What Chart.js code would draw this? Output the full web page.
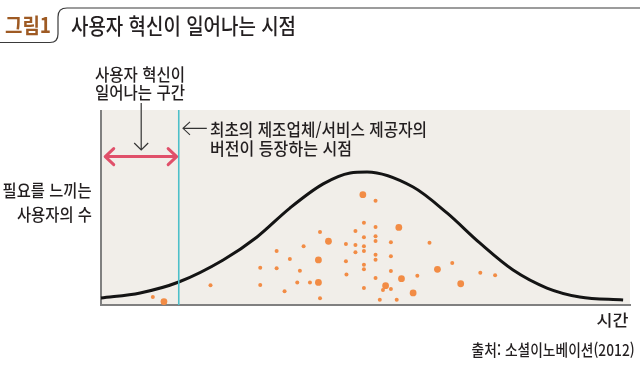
<!DOCTYPE html>
<html lang="ko">
<head>
<meta charset="utf-8">
<script src="https://cdn.jsdelivr.net/npm/chart.js@4.4.1/dist/chart.umd.min.js"></script>
<style>
  html, body { margin: 0; padding: 0; background: #ffffff; }
  #wrap { position: relative; width: 640px; height: 367px; overflow: hidden; }
  #c { position: absolute; left: 0; top: 0; }
  .t { position: absolute; white-space: nowrap; line-height: 1; color: #231f20; font-weight: 500;
       font-family: "Noto Sans CJK KR", "Noto Sans", sans-serif; display: inline-block; }
</style>
</head>
<body>
<div id="wrap">
  <canvas id="c" width="640" height="367"></canvas>
  <div class="t" data-w="46" style="left:5px; top:14px; font-size:21px; font-weight:700; color:#9e5a23;">그림1</div>
  <div class="t" data-w="225" style="left:71px; top:13px; font-size:22px;">사용자 혁신이 일어나는 시점</div>
  <div class="t" data-w="90" style="left:95px; top:65px; font-size:17px;">사용자 혁신이</div>
  <div class="t" data-w="90" style="left:95px; top:83px; font-size:17px;">일어나는 구간</div>
  <div class="t" data-w="217" style="left:210px; top:120px; font-size:17px;">최초의 제조업체/서비스 제공자의</div>
  <div class="t" data-w="142" style="left:210px; top:139px; font-size:17px;">버전이 등장하는 시점</div>
  <div class="t r" data-w="89" style="right:548px; top:181px; font-size:17px;">필요를 느끼는</div>
  <div class="t r" data-w="75" style="right:548px; top:205px; font-size:17px;">사용자의 수</div>
  <div class="t r" data-w="32" style="right:12px; top:311px; font-size:16px;">시간</div>
  <div class="t r" data-w="163" style="right:5px; top:341px; font-size:16px;">출처: 소셜이노베이션(2012)</div>
</div>
<script>
// ---- data (time 0-100, users 0-100) ----
const curveX = [0, 7.4, 14.7, 23.1, 29.5, 35.7, 42.0, 47.1, 50.3, 59.0, 65.4, 71.6, 77.9, 84.3, 90.5, 98.7];
const curveY = [3.6, 6.2, 11.8, 23.1, 34.9, 49.7, 62.1, 67.7, 68.2, 60.5, 47.2, 31.8, 17.9, 8.7, 4.1, 2.6];

const smallX = [9.8,20.7,30.1,30.1,33.2,33.2,34.7,35.7,37.1,37.6,38.3,39.5,41.4,41.4,46.3,46.3,46.4,48.1,48.1,48.1,
                49.7,49.7,49.7,49.7,49.7,49.7,49.7,51.9,51.9,51.9,51.9,51.9,51.9,51.9,52.7,53.3,54.8,54.8,54.8,54.8,
                55.9,59.8,62.1,66.4,71.7,74.5];
const smallY = [4.1,10.1,19.1,10.3,27.7,18.8,7.0,23.6,11.6,17.6,30.1,11.6,37.4,3.4,31.3,22.4,15.7,37.9,30.8,27.0,
                42.2,34.7,30.1,27.7,20.7,18.3,8.7,53.5,40.0,35.2,32.8,25.8,23.2,13.8,2.7,7.7,32.2,25.0,17.4,8.2,
                2.7,15.0,31.9,21.5,16.6,15.2];

const largeX = [11.9,41.1,41.1,43.0,49.5,53.8,56.3,56.8,59.0,63.6,68.0];
const largeY = [1.7,23.1,11.6,32.7,56.6,9.9,39.8,13.5,6.2,18.3,10.9];

const firstVersionTime = 14.7;           // teal vertical line
const innovationSpan = [0.8, 14.3];      // pink double arrow (time range)
const innovationSpanLevel = 76.1;        // height of the pink arrow
const labelArrow = { x: 7.6, yFrom: 103.6, yTo: 79.5 };   // arrow from label to span
const versionArrow = { xTip: 15.5, xTail: 20.0, y: 90.6 }; // arrow pointing at teal line

const pts = (xs, ys) => xs.map((x, i) => ({ x: x, y: ys[i] }));

const decorPlugin = {
  id: 'decor',
  beforeDatasetsDraw(chart) {
    const { ctx, chartArea: a } = chart;
    ctx.save();
    ctx.fillStyle = '#f1eee9';
    ctx.fillRect(a.left, a.top, a.right - a.left, a.bottom - a.top);
    ctx.strokeStyle = '#808080';
    ctx.lineWidth = 2;
    ctx.beginPath();
    ctx.moveTo(a.left, a.top);
    ctx.lineTo(a.left, a.bottom);
    ctx.lineTo(a.right + 1, a.bottom);
    ctx.stroke();
    // header tab line
    ctx.strokeStyle = '#3a3a3a';
    ctx.lineWidth = 1.2;
    ctx.beginPath();
    ctx.moveTo(0, 42.5);
    ctx.lineTo(50, 42.5);
    ctx.quadraticCurveTo(58, 42.5, 58, 34);
    ctx.lineTo(58, 17);
    ctx.quadraticCurveTo(58, 8, 67, 8);
    ctx.lineTo(640, 8);
    ctx.stroke();
    ctx.restore();
  },
  afterDatasetsDraw(chart) {
    const { ctx } = chart;
    const xs = chart.scales.x, ys = chart.scales.y;
    ctx.save();
    // pink double arrow
    const py = ys.getPixelForValue(innovationSpanLevel);
    const x0 = xs.getPixelForValue(innovationSpan[0]);
    const x1 = xs.getPixelForValue(innovationSpan[1]);
    ctx.strokeStyle = '#e0506a';
    ctx.lineWidth = 3;
    ctx.lineCap = 'round';
    ctx.lineJoin = 'round';
    ctx.beginPath();
    ctx.moveTo(x0 + 1, py); ctx.lineTo(x1 - 1, py);
    ctx.moveTo(x0 + 8.5, py - 8); ctx.lineTo(x0, py); ctx.lineTo(x0 + 8.5, py + 8);
    ctx.moveTo(x1 - 8.5, py - 8); ctx.lineTo(x1, py); ctx.lineTo(x1 - 8.5, py + 8);
    ctx.stroke();
    // black down arrow
    const ax = xs.getPixelForValue(labelArrow.x);
    const ay0 = ys.getPixelForValue(labelArrow.yFrom);
    const ay1 = ys.getPixelForValue(labelArrow.yTo);
    ctx.strokeStyle = '#333333';
    ctx.lineWidth = 1.2;
    ctx.lineCap = 'butt';
    ctx.lineJoin = 'miter';
    ctx.beginPath();
    ctx.moveTo(ax, ay0); ctx.lineTo(ax, ay1);
    ctx.moveTo(ax - 7, ay1 - 7); ctx.lineTo(ax, ay1); ctx.lineTo(ax + 7, ay1 - 7);
    ctx.stroke();
    // left arrow at teal line
    const bx0 = xs.getPixelForValue(versionArrow.xTip);
    const bx1 = xs.getPixelForValue(versionArrow.xTail);
    const by = ys.getPixelForValue(versionArrow.y);
    ctx.lineWidth = 1.1;
    ctx.beginPath();
    ctx.moveTo(bx1, by); ctx.lineTo(bx0, by);
    ctx.moveTo(bx0 + 7, by - 6.5); ctx.lineTo(bx0, by); ctx.lineTo(bx0 + 7, by + 6.5);
    ctx.stroke();
    ctx.restore();
  }
};

new Chart(document.getElementById('c'), {
  type: 'scatter',
  data: {
    datasets: [
      {
        type: 'line',
        data: [{ x: firstVersionTime, y: 0 }, { x: firstVersionTime, y: 100 }],
        borderColor: '#4dbfc9', borderWidth: 1.6, pointRadius: 0, fill: false
      },
      {
        type: 'line',
        data: pts(curveX, curveY),
        borderColor: '#141414', borderWidth: 3, pointRadius: 0, fill: false,
        cubicInterpolationMode: 'monotone', clip: false
      },
      {
        data: pts(smallX, smallY),
        backgroundColor: '#f28c45', borderWidth: 0, pointRadius: 2
      },
      {
        data: pts(largeX, largeY),
        backgroundColor: '#f28c45', borderWidth: 0, pointRadius: 3.4
      }
    ]
  },
  options: {
    responsive: false,
    animation: false,
    events: [],
    layout: { padding: { left: 101, top: 110, right: 10, bottom: 62 } },
    plugins: { legend: { display: false }, tooltip: { enabled: false } },
    scales: {
      x: { type: 'linear', min: 0, max: 100, display: false },
      y: { type: 'linear', min: 0, max: 100, display: false }
    }
  },
  plugins: [decorPlugin]
});

function fitTexts() {
  document.querySelectorAll('.t').forEach(el => {
    el.style.transform = 'none';
    const natural = el.getBoundingClientRect().width;
    const target = parseFloat(el.dataset.w);
    const s = target / natural;
    el.style.transformOrigin = el.classList.contains('r') ? 'right top' : 'left top';
    el.style.transform = 'scaleX(' + s.toFixed(4) + ')';
  });
}
fitTexts();
if (document.fonts && document.fonts.ready) document.fonts.ready.then(fitTexts);
</script>
</body>
</html>
